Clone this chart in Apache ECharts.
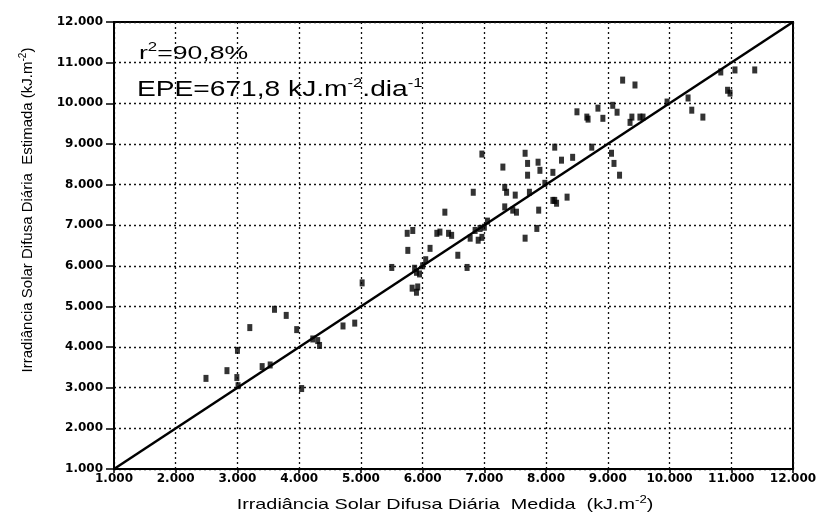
<!DOCTYPE html>
<html>
<head>
<meta charset="utf-8">
<script src="https://cdn.jsdelivr.net/npm/echarts@6/dist/echarts.min.js"></script>
<style>html,body{margin:0;padding:0;background:#fff}#c{width:821px;height:525px}</style>
</head>
<body>
<div id="c"></div>
<script>
const tickLabels = ['1.000','2.000','3.000','4.000','5.000','6.000','7.000','8.000','9.000','10.000','11.000','12.000'];
const measured = [2490,2830,2990,3010,3000,3200,3400,3530,3600,3790,3960,4040,4220,4300,4330,4710,4900,5020,
  5500,5750,5760,5840,5830,5870,5900,5900,5920,5950,6000,6050,6120,6230,6280,6360,6420,6470,6570,6720,6770,6850,6930,6960,6900,7000,7050,6820,6960,
  7300,7330,7360,7330,7460,7520,7500,7660,7700,7700,7730,7870,7900,7880,7850,7660,7980,8110,8170,8140,8250,8430,8110,8740,8340,8140,
  8500,8660,8680,8840,8920,9080,9150,9360,9390,9570,9520,9060,9100,9190,9240,9440,9960,10300,10360,10540,10830,10940,10980,11060,11380];
const estimated = [3230,3420,3250,3050,3920,4480,3520,3560,4930,4780,4430,2980,4200,4160,4040,4520,4590,5580,
  5960,6800,6380,6870,5450,5940,5840,5350,5480,5800,6000,6150,6430,6800,6830,7320,6800,6750,6260,5960,6680,6870,6920,6700,6630,6950,7100,7810,8750,
  8430,7930,7810,7450,7370,7320,7740,8770,8520,8230,7810,8550,8350,7370,6920,6680,8030,7610,7540,8920,8600,8670,8300,8920,7690,7610,
  9790,9660,9610,9880,9630,9950,9780,9530,9660,9660,9660,8770,8520,8230,10570,10450,10030,10130,9830,9660,10770,10320,10250,10820,10820];
const lineX = [1000, 12000];
const lineY = [1000, 12000];

const points = measured.map((v, i) => [v, estimated[i]]);
const linePts = lineX.map((v, i) => [v, lineY[i]]);

const chart = echarts.init(document.getElementById('c'), null, {renderer: 'canvas'});
const labelFont = {fontFamily: 'DejaVu Sans', fontSize: 12, fontWeight: 600, color: '#000'};
const axisCommon = {
  type: 'value', min: 1000, max: 12000, interval: 1000,
  axisLine: {show: true, onZero: false, lineStyle: {color: '#000', width: 2}},
  splitLine: {show: true, lineStyle: {color: '#111', width: 1.3, type: [2, 3]}}
};
chart.setOption({
  animation: false,
  backgroundColor: '#fff',
  grid: {left: 114, right: 28, top: 22, bottom: 56, show: true, borderColor: '#000', borderWidth: 2, backgroundColor: 'transparent'},
  xAxis: Object.assign({}, axisCommon, {
    axisTick: {show: true, length: 4, lineStyle: {color: '#000', width: 1.5}},
    axisLabel: Object.assign({}, labelFont, {margin: 4, formatter: v => tickLabels[Math.round((v - 1000) / 1000)]})
  }),
  yAxis: Object.assign({}, axisCommon, {
    axisTick: {show: true, length: 8, lineStyle: {color: '#000', width: 1.5}},
    axisLabel: Object.assign({}, labelFont, {margin: 11, formatter: v => tickLabels[Math.round((v - 1000) / 1000)]})
  }),
  series: [
    {type: 'line', data: linePts, symbol: 'none', lineStyle: {color: '#000', width: 2.5}, z: 3},
    {type: 'scatter', data: points, symbol: 'rect', symbolSize: [5, 7], itemStyle: {color: '#000'}, z: 4}
  ],
  graphic: [
    {type: 'text', x: 139, y: 42, scaleX: 1.4, z: 10,
      style: {text: '{b|r}{s|2}{b|=90,8%}', fill: '#000',
        rich: {b: {fontSize: 19, fontFamily: 'Liberation Sans', fill: '#000', lineHeight: 24}, s: {fontSize: 12, fontFamily: 'Liberation Sans', fill: '#000', verticalAlign: 'top', lineHeight: 24}}}},
    {type: 'text', x: 137, y: 77, scaleX: 1.28, z: 10,
      style: {text: '{b|EPE=671,8 kJ.m}{s|-2}{b|.dia}{s|-1}', fill: '#000',
        rich: {b: {fontSize: 22, fontFamily: 'Liberation Sans', fill: '#000', lineHeight: 26}, s: {fontSize: 13, fontFamily: 'Liberation Sans', fill: '#000', verticalAlign: 'top', lineHeight: 26}}}},
    {type: 'text', x: 445, y: 505, scaleX: 1.32, z: 10,
      style: {text: '{b|Irradiância Solar Difusa Diária  Medida  (kJ.m}{s|-2}{b|)}', align: 'center', verticalAlign: 'middle', textAlign: 'center', textVerticalAlign: 'middle',
        rich: {b: {fontSize: 15, fontFamily: 'Liberation Sans', fill: '#000', lineHeight: 20}, s: {fontSize: 10, fontFamily: 'Liberation Sans', fill: '#000', verticalAlign: 'top', lineHeight: 20}}}},
    {type: 'text', x: 28, y: 210, rotation: Math.PI / 2, z: 10,
      style: {text: '{b|Irradiância Solar Difusa Diária  Estimada (kJ.m}{s|-2}{b|)}', align: 'center', verticalAlign: 'middle', textAlign: 'center', textVerticalAlign: 'middle',
        rich: {b: {fontSize: 15, fontFamily: 'Liberation Sans', fill: '#000', lineHeight: 19}, s: {fontSize: 10, fontFamily: 'Liberation Sans', fill: '#000', verticalAlign: 'top', lineHeight: 19}}}}
  ]
});
</script>
</body>
</html>
